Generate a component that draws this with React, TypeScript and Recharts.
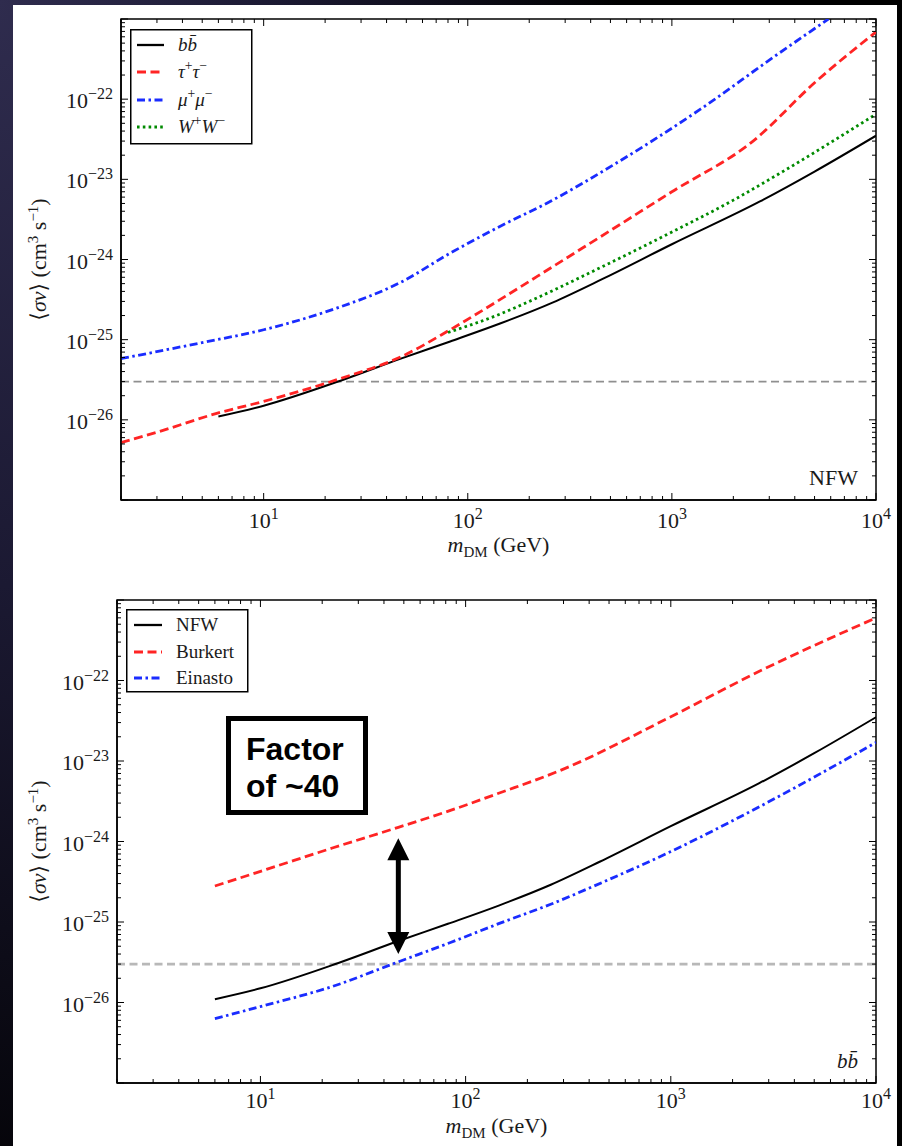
import type { ReactNode } from "react";
import { Line, LineChart, ReferenceArea, ReferenceLine, XAxis, YAxis } from "recharts";

// Upper limits on <sigma v> (cm^3 s^-1) against DM mass (GeV)
const massBB = [6, 10, 24, 47, 82, 145, 260, 450, 1000, 2700, 5000, 10000];
const sigmaBB = [1.1e-26, 1.5e-26, 3.1e-26, 5.8e-26, 9.5e-26, 1.6e-25, 2.9e-25, 5.6e-25, 1.55e-24, 5.3e-24, 1.25e-23, 3.5e-23];

const massTau = [2, 3, 6, 10, 24, 47, 82, 145, 260, 500, 1000, 2500, 5000, 10000];
const sigmaTau = [5.2e-27, 7.0e-27, 1.22e-26, 1.7e-26, 3.3e-26, 6.1e-26, 1.33e-25, 3.2e-25, 8.1e-25, 2.3e-24, 7.0e-24, 3.0e-23, 1.6e-22, 6.9e-22];

const massMu = [2, 5, 10, 22, 47, 82, 140, 257, 505, 1380, 3070, 5850];
const sigmaMu = [5.8e-26, 9.2e-26, 1.33e-25, 2.4e-25, 5.2e-25, 1.2e-24, 2.5e-24, 5.4e-24, 1.46e-23, 7.5e-23, 3.2e-22, 1.0e-21];

const massWW = [80, 145, 200, 450, 1000, 2000, 3400, 10000];
const sigmaWW = [1.23e-25, 2.1e-25, 3.0e-25, 8.0e-25, 2.2e-24, 5.5e-24, 1.2e-23, 6.5e-23];

const massBurkert = [6, 10.7, 22.4, 47, 85, 146, 288, 990, 2700, 10000];
const sigmaBurkert = [2.8e-25, 4.5e-25, 8.3e-25, 1.5e-24, 2.45e-24, 4.0e-24, 7.6e-24, 3.5e-23, 1.3e-22, 6.0e-22];

const massEinasto = [6, 10, 22.4, 47, 85, 146, 258, 490, 1000, 2700, 10000];
const sigmaEinasto = [6.3e-27, 8.9e-27, 1.58e-26, 3.2e-26, 5.6e-26, 9.6e-26, 1.65e-25, 3.3e-25, 7.5e-25, 2.7e-24, 1.7e-23];

const thermalRelic = 3e-26;
// "Factor of ~40" arrow, drawn at this mass between these two cross-sections
const arrowMass = 47;
const arrowFrom = 1.1e-24;
const arrowTo = 4e-26;

const channelNames = ["bb\u0304", "τ^+τ^−", "μ^+μ^−", "W^+W^−"];
const profileNames = ["NFW", "Burkert", "Einasto"];

const X_DOMAIN: [number, number] = [2, 10000];
const Y_DOMAIN: [number, number] = [1e-27, 1e-21];

const serif = '"Liberation Serif", "DejaVu Serif", serif';
const sans = '"Liberation Sans", Arial, sans-serif';

function logTicks(lo: number, hi: number) {
  const out: number[] = [];
  for (let k = lo; k < hi; k++) for (let j = 1; j < 10; j++) out.push(j * Math.pow(10, k));
  out.push(Math.pow(10, hi));
  return out;
}
const xTicks = logTicks(0, 4).filter((t) => t >= 2);
const yTicks = logTicks(-27, -21);

type Pt = { m: number; v: number };
const toPoints = (m: number[], v: number[]): Pt[] => m.map((x, i) => ({ m: x, v: v[i] }));

type Series = { name: string; pts: Pt[]; color: string; width: number; dash?: string; italic?: boolean };

const DASH = "9 4.5";
const DASHDOT = "8 3.5 2.5 3.5";
const DOT = "2.6 3.2";

const channelSeries: Series[] = [
  { name: channelNames[0], pts: toPoints(massBB, sigmaBB), color: "#000", width: 2, italic: true },
  { name: channelNames[1], pts: toPoints(massTau, sigmaTau), color: "#ff2424", width: 2.8, dash: DASH, italic: true },
  { name: channelNames[2], pts: toPoints(massMu, sigmaMu), color: "#1a2cff", width: 2.8, dash: DASHDOT, italic: true },
  { name: channelNames[3], pts: toPoints(massWW, sigmaWW), color: "#008a00", width: 2.8, dash: DOT, italic: true },
];

const profileSeries: Series[] = [
  { name: profileNames[0], pts: toPoints(massBB, sigmaBB), color: "#000", width: 2 },
  { name: profileNames[1], pts: toPoints(massBurkert, sigmaBurkert), color: "#ff2424", width: 2.8, dash: DASH },
  { name: profileNames[2], pts: toPoints(massEinasto, sigmaEinasto), color: "#1a2cff", width: 2.8, dash: DASHDOT },
];

const decade = (v: number) => {
  const e = Math.round(Math.log10(v));
  return { e, major: Math.abs(Math.log10(v) - e) < 1e-6 };
};
const expText = (e: number) => (e < 0 ? "−" + Math.abs(e) : String(e));

// label text with "^x" marking a one-character superscript
function MathText({ text, size, italic }: { text: string; size: number; italic?: boolean }) {
  const parts: ReactNode[] = [];
  const re = /\^(.)/g;
  const rise = size * 0.42;
  let last = 0;
  let m: RegExpExecArray | null;
  let raised = false;
  let i = 0;
  const pushBase = (s: string) => {
    parts.push(
      <tspan key={i++} dy={raised ? rise : 0} fontStyle={italic ? "italic" : undefined}>
        {s}
      </tspan>
    );
    raised = false;
  };
  while ((m = re.exec(text))) {
    const base = text.slice(last, m.index);
    if (base) pushBase(base);
    parts.push(
      <tspan key={i++} dy={raised ? 0 : -rise} fontSize={size * 0.72}>
        {m[1]}
      </tspan>
    );
    raised = true;
    last = re.lastIndex;
  }
  const rest = text.slice(last);
  if (rest) pushBase(rest);
  return <>{parts}</>;
}

function XTick(props: any) {
  const { x, y, payload, plotH, labelDy } = props;
  const { e, major } = decade(payload.value);
  const len = major ? 7 : 4;
  return (
    <g>
      <line x1={x} y1={y} x2={x} y2={y - len} stroke="#000" />
      <line x1={x} y1={y - plotH} x2={x} y2={y - plotH + len} stroke="#000" />
      {major && (
        <text x={x} y={y + labelDy} textAnchor="middle" fontFamily={serif} fontSize={22} fill="#1a1a1a">
          10<tspan dy={-9} fontSize={16}>{expText(e)}</tspan>
        </text>
      )}
    </g>
  );
}

function YTick(props: any) {
  const { x, y, payload, plotW } = props;
  const { e, major } = decade(payload.value);
  const len = major ? 7 : 4;
  const labelled = major && e >= -26 && e <= -22;
  return (
    <g>
      <line x1={x} y1={y} x2={x + len} y2={y} stroke="#000" />
      <line x1={x + plotW} y1={y} x2={x + plotW - len} y2={y} stroke="#000" />
      {labelled && (
        <text x={x - 8} y={y + 9} textAnchor="end" fontFamily={serif} fontSize={22} fill="#1a1a1a">
          10<tspan dy={-9} fontSize={16}>{expText(e)}</tspan>
        </text>
      )}
    </g>
  );
}

function XTitle({ tx, ty }: { tx: number; ty: number }) {
  return (
    <text x={tx} y={ty} textAnchor="middle" fontFamily={serif} fontSize={22} fill="#1a1a1a">
      <tspan fontStyle="italic">m</tspan>
      <tspan fontSize={15} dy={5}>DM</tspan>
      <tspan dy={-5}> (GeV)</tspan>
    </text>
  );
}

function YTitle({ tx, ty }: { tx: number; ty: number }) {
  return (
    <text transform={`rotate(-90 ${tx} ${ty})`} x={tx} y={ty} textAnchor="middle" fontFamily={serif} fontSize={22} fill="#1a1a1a">
      ⟨<tspan fontStyle="italic">σv</tspan>⟩ (cm<tspan dy={-8} fontSize={15}>3</tspan>
      <tspan dy={8}> s</tspan>
      <tspan dy={-8} fontSize={15}>−1</tspan>
      <tspan dy={8}>)</tspan>
    </text>
  );
}

function ArrowShape(props: any) {
  const { x1, y1, y2 } = props;
  const top = Math.min(y1, y2);
  const bot = Math.max(y1, y2);
  const hw = 11;
  const hh = 22;
  return (
    <g>
      <line x1={x1} y1={top + hh - 2} x2={x1} y2={bot - hh + 2} stroke="#000" strokeWidth={5} />
      <polygon points={`${x1},${top} ${x1 - hw},${top + hh} ${x1 + hw},${top + hh}`} fill="#000" />
      <polygon points={`${x1},${bot} ${x1 - hw},${bot - hh} ${x1 + hw},${bot - hh}`} fill="#000" />
    </g>
  );
}

type PanelProps = {
  top: number;
  height: number;
  margin: { top: number; right: number; bottom: number; left: number };
  yAxisWidth: number;
  xAxisHeight: number;
  series: Series[];
  refColor: string;
  refWidth: number;
  xLabelDy: number;
  xTitleDy: number;
  arrow?: boolean;
};

function Panel(p: PanelProps) {
  const W = 902;
  const plotLeft = p.margin.left + p.yAxisWidth;
  const plotW = W - p.margin.right - plotLeft;
  const plotH = p.height - p.margin.top - p.margin.bottom - p.xAxisHeight;
  const plotBottom = p.margin.top + plotH;
  return (
    <div style={{ position: "absolute", left: 0, top: p.top }}>
      <LineChart width={W} height={p.height} margin={p.margin}>
        <XAxis
          type="number"
          dataKey="m"
          scale="log"
          domain={X_DOMAIN}
          allowDataOverflow
          ticks={xTicks}
          interval={0}
          height={p.xAxisHeight}
          tickSize={0}
          tickMargin={0}
          tickLine={false}
          axisLine={{ stroke: "#000", strokeWidth: 1.5 }}
          tick={(t: any) => <XTick {...t} plotH={plotH} labelDy={p.xLabelDy} />}
          label={<XTitle tx={plotLeft + plotW / 2} ty={plotBottom + p.xTitleDy} />}
        />
        <YAxis
          type="number"
          scale="log"
          domain={Y_DOMAIN}
          allowDataOverflow
          ticks={yTicks}
          interval={0}
          width={p.yAxisWidth}
          tickSize={0}
          tickMargin={0}
          tickLine={false}
          axisLine={{ stroke: "#000", strokeWidth: 1.5 }}
          tick={(t: any) => <YTick {...t} plotW={plotW} />}
          label={<YTitle tx={46} ty={p.margin.top + plotH / 2} />}
        />
        <ReferenceArea x1={X_DOMAIN[0]} x2={X_DOMAIN[1]} y1={Y_DOMAIN[0]} y2={Y_DOMAIN[1]} fill="none" stroke="#000" strokeWidth={1.5} />
        <ReferenceLine y={thermalRelic} stroke={p.refColor} strokeWidth={p.refWidth} strokeDasharray="8 4.5" />
        {p.series.map((s) => (
          <Line
            key={s.name}
            data={s.pts}
            dataKey="v"
            type="monotone"
            stroke={s.color}
            strokeWidth={s.width}
            strokeDasharray={s.dash}
            dot={false}
            activeDot={false}
            isAnimationActive={false}
          />
        ))}
        {p.arrow && (
          <ReferenceLine
            segment={[
              { x: arrowMass, y: arrowFrom },
              { x: arrowMass, y: arrowTo },
            ]}
            shape={ArrowShape}
          />
        )}
      </LineChart>
    </div>
  );
}

type LegendProps = { x: number; y: number; w: number; h: number; series: Series[]; rowY: number[]; sample: [number, number]; textX: number };

function LegendBox({ x, y, w, h, series, rowY, sample, textX }: LegendProps) {
  return (
    <g transform={`translate(${x} ${y})`}>
      <rect x={0.75} y={0.75} width={w} height={h} fill="#fff" stroke="#000" strokeWidth={1.5} />
      {series.map((s, i) => (
        <g key={s.name}>
          <line x1={sample[0]} x2={sample[1]} y1={rowY[i]} y2={rowY[i]} stroke={s.color} strokeWidth={s.width + 0.3} strokeDasharray={s.dash} />
          <text x={textX} y={rowY[i] + 6} fontFamily={serif} fontSize={19} fill="#1a1a1a">
            <MathText text={s.name} size={19} italic={s.italic} />
          </text>
        </g>
      ))}
    </g>
  );
}

export default function App() {
  return (
    <div
      style={{
        position: "absolute",
        left: 0,
        top: 0,
        width: 902,
        height: 1146,
        overflow: "hidden",
        background: "radial-gradient(ellipse 620px 1300px at 0 0, #2f2c4e 0%, #1b1932 45%, #000 100%)",
      }}
    >
      <div style={{ position: "absolute", left: 13, top: 5, width: 884, height: 1141, background: "#fff" }} />
      <Panel
        top={0}
        height={580}
        margin={{ top: 19, right: 26, bottom: 20, left: 20 }}
        yAxisWidth={101}
        xAxisHeight={60}
        series={channelSeries}
        refColor="#8f8f8f"
        refWidth={1.6}
        xLabelDy={28}
        xTitleDy={52}
      />
      <Panel
        top={580}
        height={566}
        margin={{ top: 20, right: 26, bottom: 20, left: 17 }}
        yAxisWidth={100}
        xAxisHeight={43}
        series={profileSeries}
        refColor="#b8b8b8"
        refWidth={2.6}
        xLabelDy={25}
        xTitleDy={50}
        arrow
      />
      <svg width={902} height={1146} style={{ position: "absolute", left: 0, top: 0, pointerEvents: "none" }}>
        <LegendBox x={130} y={29} w={121} h={114} series={channelSeries} rowY={[16, 43, 71, 98]} sample={[7, 34]} textX={48} />
        <LegendBox x={126} y={609} w={121} h={82} series={profileSeries} rowY={[16, 43, 69]} sample={[8, 36]} textX={50} />
        <text x={858} y={485} textAnchor="end" fontFamily={serif} fontSize={22} fill="#1a1a1a">
          NFW
        </text>
        <text x={858} y={1068} textAnchor="end" fontFamily={serif} fontSize={21} fontStyle="italic" fill="#1a1a1a">
          {channelNames[0]}
        </text>
        <rect x={228.5} y={718.5} width={137} height={94} fill="#fff" stroke="#000" strokeWidth={5} />
        <text fontFamily={sans} fontWeight="bold" fontSize={32} fill="#000">
          <tspan x={246} y={760}>Factor</tspan>
          <tspan x={246} y={797}>of ~40</tspan>
        </text>
      </svg>
    </div>
  );
}
